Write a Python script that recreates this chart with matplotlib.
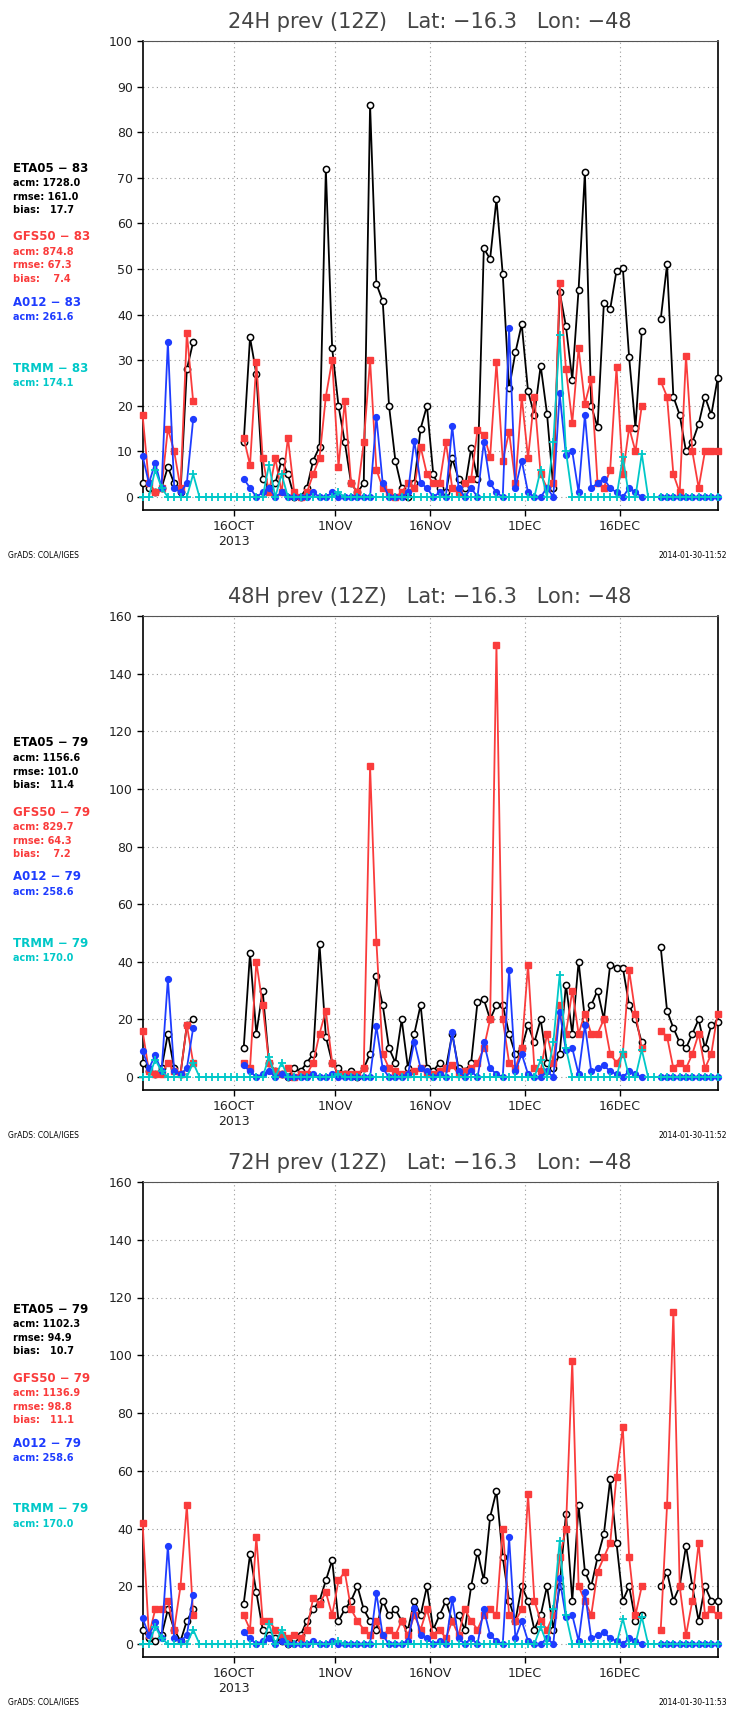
import numpy as np
import matplotlib
matplotlib.use('Agg')
import matplotlib.pyplot as plt
import matplotlib.dates as mdates

nan = np.nan

# daily values at 12Z, 1 Oct 2013 .. 31 Dec 2013 (92 days)
days = np.arange('2013-10-01T12', '2014-01-01T12', np.timedelta64(1, 'D'),
                 dtype='datetime64[h]')

# ---- 24H ----
eta24 = [3, 2, 1, 2, 6.6, 3, 1, 28, 34, nan,
         nan, nan, nan, nan, nan, nan, 12, 35, 27, 4,
         2, 3, 8, 5, 0, 0, 2, 8, 11, 72,
         32.6, 20, 12, 3, 1, 3, 86, 46.7, 43, 20,
         8, 2, 0, 3, 15, 20, 5, 2, 1, 8.5,
         4, 2, 10.7, 4, 54.5, 52.2, 65.3, 48.8, 23.8, 31.7,
         37.9, 23.2, 18, 28.8, 18.3, 2, 45, 37.4, 25.7, 45.5,
         71.3, 20, 15.3, 42.5, 41.2, 49.6, 50.3, 30.6, 15.2, 36.4,
         nan, nan, 39, 51, 22, 18, 10, 12, 16, 22,
         18, 26]
gfs24 = [18, 3, 1, 2, 15, 10, 2, 36, 21, nan,
         nan, nan, nan, nan, nan, nan, 13, 7, 29.5, 8.6,
         1, 8.5, 1, 13, 1, 0, 1, 5, 8.6, 22,
         30, 6.6, 21, 3, 1, 12, 30, 6, 2, 1,
         0, 1, 3, 2, 11, 5, 3, 3, 12, 2,
         1, 3, 4, 14.7, 13.7, 8.8, 29.5, 8, 14.3, 3,
         22, 8.5, 22, 5, 2, 3, 47, 28, 16.3, 32.6,
         20.5, 25.8, 3, 2, 6, 28.4, 5, 15.2, 10, 20,
         nan, nan, 25.4, 22, 5, 1, 31, 10, 2, 10,
         10, 10]
a012_24 = [9, 3, 7.5, 2, 34, 2, 1, 3, 17, nan,
           nan, nan, nan, nan, nan, nan, 4, 2, 0, 1,
           2, 0, 1, 0, 0, 0, 0, 1, 0, 0,
           1, 0, 0, 0, 0, 0, 0, 17.6, 3, 0,
           0, 0, 1, 12.3, 3, 2, 0, 1, 0, 15.6,
           2, 0, 2, 0, 12, 3, 1, 0, 37, 2,
           8, 1, 0, 0, 2, 0, 22.7, 9.2, 10, 1,
           18, 2, 3, 4, 2, 1, 0, 2, 1, 0,
           nan, nan, 0, 0, 0, 0, 0, 0, 0, 0,
           0, 0]
trmm24 = [0, 0, 6, 2, 0, 0, 0, 0, 5, 0,
          0, 0, 0, 0, 0, 0, 0, 0, 0, 0,
          7, 0, 5, 0, 0, 0, 0, 0, 0, 0,
          0, 1, 0, 0, 0, 0, 0, 0, 0, 0,
          0, 0, 0, 0, 0, 0, 0, 0, 0, 0,
          0, 0, 0, 0, 0, 0, 0, 0, 0, 0,
          0, 0, 0, 6, 0, 12, 35.5, 10, 0, 0,
          0, 0, 0, 0, 0, 0, 8.8, 0, 0, 9.5,
          0, 0, 0, 0, 0, 0, 0, 0, 0, 0,
          0, 0]

# ---- 48H ----
eta48 = [5, 2, 1, 3, 15, 3, 1, 18, 20, nan,
         nan, nan, nan, nan, nan, nan, 10, 43, 15, 30,
         5, 2, 1, 0, 3, 2, 5, 8, 46, 14,
         5, 3, 1, 2, 0, 3, 8, 35, 25, 10,
         5, 20, 3, 15, 25, 3, 2, 5, 3, 15,
         3, 2, 5, 26, 27, 20, 25, 25, 15, 8,
         10, 18, 12, 20, 5, 3, 8, 32, 15, 40,
         20, 25, 30, 20, 39, 38, 38, 25, 20, 12,
         nan, nan, 45, 23, 17, 12, 10, 15, 20, 10,
         18, 19]
gfs48 = [16, 2, 1, 1, 5, 2, 1, 18, 5, nan,
         nan, nan, nan, nan, nan, nan, 5, 3, 40, 25,
         5, 2, 1, 3, 0, 1, 1, 5, 15, 23,
         5, 1, 1, 1, 1, 3, 108, 47, 8, 3,
         2, 1, 1, 2, 3, 1, 1, 2, 3, 4,
         1, 2, 3, 5, 10, 20, 150, 20, 5, 3,
         10, 39, 3, 2, 15, 5, 25, 15, 30, 15,
         22, 15, 15, 20, 8, 5, 8, 37, 22, 10,
         nan, nan, 16, 14, 3, 5, 3, 8, 15, 3,
         8, 22]
a012_48 = a012_24
trmm48 = trmm24

# ---- 72H ----
eta72 = [5, 2, 1, 3, 12, 5, 1, 8, 12, nan,
         nan, nan, nan, nan, nan, nan, 14, 31, 18, 5,
         3, 2, 1, 0, 2, 3, 8, 12, 15, 22,
         29, 8, 12, 15, 20, 12, 8, 5, 15, 10,
         12, 8, 5, 15, 10, 20, 5, 10, 15, 8,
         10, 5, 20, 32, 22, 44, 53, 30, 15, 8,
         20, 15, 5, 10, 20, 5, 20, 45, 15, 48,
         25, 20, 30, 38, 57, 35, 15, 20, 8, 10,
         nan, nan, 20, 25, 15, 20, 34, 20, 8, 20,
         15, 15]
gfs72 = [42, 3, 12, 12, 15, 5, 20, 48, 10, nan,
         nan, nan, nan, nan, nan, nan, 10, 5, 37, 8,
         8, 5, 3, 2, 3, 2, 5, 16, 14, 18,
         10, 22, 25, 12, 8, 5, 3, 8, 3, 5,
         3, 8, 3, 10, 5, 12, 3, 5, 2, 8,
         3, 12, 8, 5, 10, 12, 10, 40, 10, 8,
         12, 52, 15, 8, 5, 10, 30, 40, 98, 20,
         15, 10, 25, 30, 35, 58, 75, 30, 10, 20,
         nan, nan, 5, 48, 115, 20, 3, 15, 35, 10,
         12, 10]
a012_72 = a012_24
trmm72 = trmm24

titles = ['24H prev (12Z)   Lat: \u221216.3   Lon: \u221248',
          '48H prev (12Z)   Lat: \u221216.3   Lon: \u221248',
          '72H prev (12Z)   Lat: \u221216.3   Lon: \u221248']
stats = [
    [('ETA05 \u2212 83', ['acm: 1728.0', 'rmse: 161.0', 'bias:   17.7']),
     ('GFS50 \u2212 83', ['acm: 874.8', 'rmse: 67.3', 'bias:    7.4']),
     ('A012 \u2212 83', ['acm: 261.6']),
     ('TRMM \u2212 83', ['acm: 174.1'])],
    [('ETA05 \u2212 79', ['acm: 1156.6', 'rmse: 101.0', 'bias:   11.4']),
     ('GFS50 \u2212 79', ['acm: 829.7', 'rmse: 64.3', 'bias:    7.2']),
     ('A012 \u2212 79', ['acm: 258.6']),
     ('TRMM \u2212 79', ['acm: 170.0'])],
    [('ETA05 \u2212 79', ['acm: 1102.3', 'rmse: 94.9', 'bias:   10.7']),
     ('GFS50 \u2212 79', ['acm: 1136.9', 'rmse: 98.8', 'bias:   11.1']),
     ('A012 \u2212 79', ['acm: 258.6']),
     ('TRMM \u2212 79', ['acm: 170.0'])],
]
series = [(eta24, gfs24, a012_24, trmm24),
          (eta48, gfs48, a012_48, trmm48),
          (eta72, gfs72, a012_72, trmm72)]
stamps = ['2014-01-30-11:52', '2014-01-30-11:52', '2014-01-30-11:53']

RED = '#fa3c3c'
BLUE = '#1e3cff'
CYAN = '#00c8c8'
colors = ['black', RED, BLUE, CYAN]

W, H = 733, 1717
fig = plt.figure(figsize=(W / 100, H / 100), dpi=100)

# pixel layout: (y of top value, y of zero, top value)
layout = [(41, 497, 100), (616, 1077, 160), (1182, 1644, 160)]
X0, X1 = 142.6, 717.6

tick_dates = np.array(['2013-10-16', '2013-11-01', '2013-11-16',
                       '2013-12-01', '2013-12-16'], dtype='datetime64[h]')
tick_labels = ['16OCT\n2013', '1NOV', '16NOV', '1DEC', '16DEC']

for k in range(3):
    top, zero, ymax = layout[k]
    ppu = (zero - top) / ymax
    bot = zero + 13
    ax = fig.add_axes([X0 / W, 1 - bot / H, (X1 - X0) / W, (bot - top) / H])
    ax.set_xlim(days[0], days[-1])
    ax.set_ylim(-13 / ppu, ymax)

    step = 10 if ymax == 100 else 20
    ax.set_yticks(np.arange(0, ymax + 1, step))
    ax.set_xticks(tick_dates)
    ax.set_xticklabels(tick_labels)
    ax.tick_params(direction='out', length=4, width=1, labelsize=9,
                   labelcolor='#222', pad=3)
    ax.grid(True, color='#999999', lw=0.8, ls=(0, (1, 3)))
    for s in ['left', 'bottom', 'right']:
        ax.spines[s].set_linewidth(1.2)
    ax.spines['top'].set_linestyle((0, (3, 1)))
    ax.spines['top'].set_color('#555555')

    eta, gfs, a012, trmm = series[k]
    ax.plot(days, eta, color='black', lw=1.3, marker='o', ms=4.5,
            mfc='white', mec='black', mew=1.1, clip_on=False, zorder=3)
    ax.plot(days, gfs, color=RED, lw=1.3, marker='s', ms=4.2,
            mec=RED, clip_on=False, zorder=4)
    ax.plot(days, a012, color=BLUE, lw=1.3, marker='o', ms=4.2,
            mec=BLUE, clip_on=False, zorder=5)
    ax.plot(days, trmm, color=CYAN, lw=1.3, marker='+', ms=5.5,
            mew=1.3, clip_on=False, zorder=6)

    # title
    fig.text((X0 + X1) / 2 / W, 1 - (top - 19) / H, titles[k],
             ha='center', va='center', fontsize=15, color='#444444')

    # statistics blocks
    off = top - 41
    heads = [168, 237, 302, 368]
    for (head, lines), y0, c in zip(stats[k], heads, colors):
        fig.text(13 / W, 1 - (y0 + off) / H, head, ha='left', va='center',
                 fontsize=8.5, fontweight='bold', color=c)
        for j, ln in enumerate(lines):
            fig.text(13 / W, 1 - (y0 + off + 15 + 13.5 * j) / H, ln,
                     ha='left', va='center', fontsize=7,
                     fontweight='bold', color=c)

    # footer
    fig.text(8 / W, 1 - (zero + 58) / H, 'GrADS: COLA/IGES', ha='left',
             va='center', fontsize=5.5, color='black')
    fig.text(727 / W, 1 - (zero + 58) / H, stamps[k], ha='right',
             va='center', fontsize=5.5, color='black')

fig.savefig('out.png', dpi=100, facecolor='white')
